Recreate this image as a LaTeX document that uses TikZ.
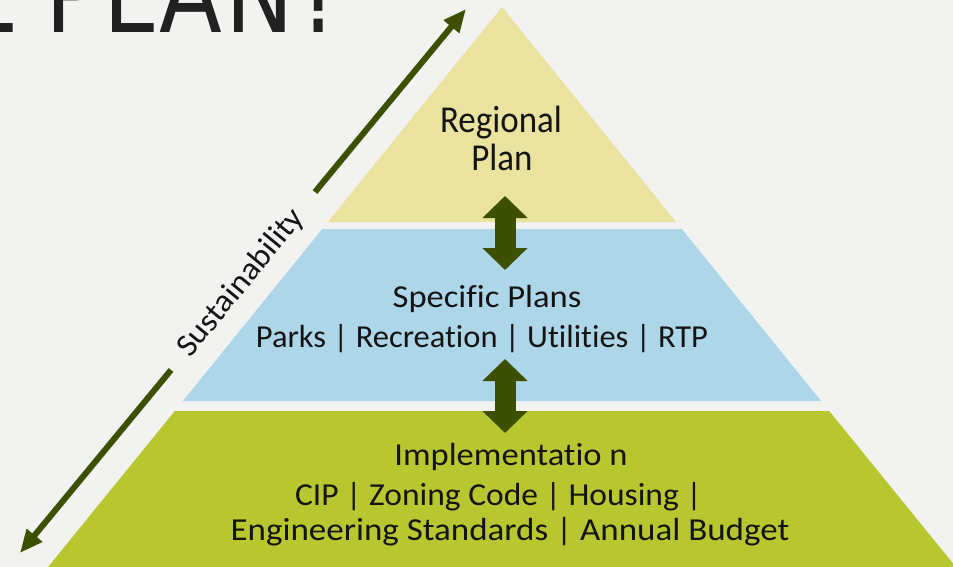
\documentclass[tikz,border=0pt]{standalone}
\usepackage{fontspec}
\setmainfont[Ligatures={NoCommon}]{Carlito}
\newfontfamily\titlefont[LetterSpace=3]{DejaVu Sans}
\usetikzlibrary{arrows.meta}
\definecolor{bg}{RGB}{242,242,241}
\definecolor{ylw}{RGB}{234,226,159}
\definecolor{blu}{RGB}{174,214,233}
\definecolor{grn}{RGB}{184,199,48}
\definecolor{dkg}{RGB}{61,80,0}
\definecolor{ttl}{RGB}{33,33,33}
\definecolor{txt}{RGB}{20,20,20}
\newcommand{\xwide}[2]{\scalebox{#1}[1]{#2}}
\tikzset{
  lbl/.style={anchor=base, inner sep=0pt, text=txt},
  bigtxt/.style={font=\fontsize{38}{40}\selectfont},
  midtxt/.style={font=\fontsize{32}{34}\selectfont},
  susarrow/.style={draw=dkg, line width=6pt, -{Triangle[length=23pt 0,width=19pt 0]}},
  blockarrow/.style={draw=dkg, line width=21pt,
    {Triangle[length=22pt 0,width=44pt 0]}-{Triangle[length=22pt 0,width=44pt 0]}}
}
\begin{document}
\begin{tikzpicture}[x=1pt,y=-1pt]
\fill[bg] (0,0) rectangle (953,567);
\useasboundingbox (0,0) rectangle (953,567);
\clip (0,0) rectangle (953,567);

% title (cut off)
\node[anchor=base east, inner sep=0pt, text=ttl] (title) at (346,33)
  {\scalebox{0.85}[1]{\titlefont\fontsize{108}{108}\selectfont L PLAN?}};

% pyramid bands
\fill[ylw] (502,7) -- (676.2,222) -- (327.8,222) -- cycle;
\fill[blu] (322.2,229) -- (681.8,229) -- (821.1,401) -- (182.9,401) -- cycle;
\fill[grn] (174.8,411) -- (829.2,411) -- (960,572) -- (44,572) -- cycle;

% texts
\node[lbl,bigtxt] (reg1) at (501,132) {\xwide{0.92}{Regional}};
\node[lbl,bigtxt] (reg2) at (502,170) {\xwide{0.92}{Plan}};
\node[lbl,midtxt] (sp1) at (487,307) {\xwide{1.08}{Specific Plans}};
\node[lbl,midtxt] (sp2) at (482,347) {\xwide{1.015}{Parks | Recreation | Utilities | RTP}};
\node[lbl,midtxt] (im1) at (511,465) {\xwide{1.08}{Implementatio n}};
\node[lbl,midtxt] (im2) at (498.5,505) {\xwide{1.047}{CIP | Zoning Code | Housing |}};
\node[lbl,midtxt] (im3) at (510,540) {\xwide{1.094}{Engineering Standards | Annual Budget}};

% block arrows between levels
\coordinate (a1t) at (505,196);
\coordinate (a1b) at (505,270);
\coordinate (a2t) at (505,359);
\coordinate (a2b) at (505,433);
\draw[blockarrow] (a1t) -- (a1b);
\draw[blockarrow] (a2t) -- (a2b);

% sustainability arrow
\node[inner sep=0pt, rotate=50.65, text=txt, midtxt] (sus) at (241,283) {\xwide{1.05}{Sustainability}};
\coordinate (supB) at (315,192);
\coordinate (supT) at (466,9);
\coordinate (sdnT) at (171,370);
\coordinate (sdnB) at (20,553);
\draw[susarrow] (supB) -- (supT);
\draw[susarrow] (sdnT) -- (sdnB);
\end{tikzpicture}
\end{document}
